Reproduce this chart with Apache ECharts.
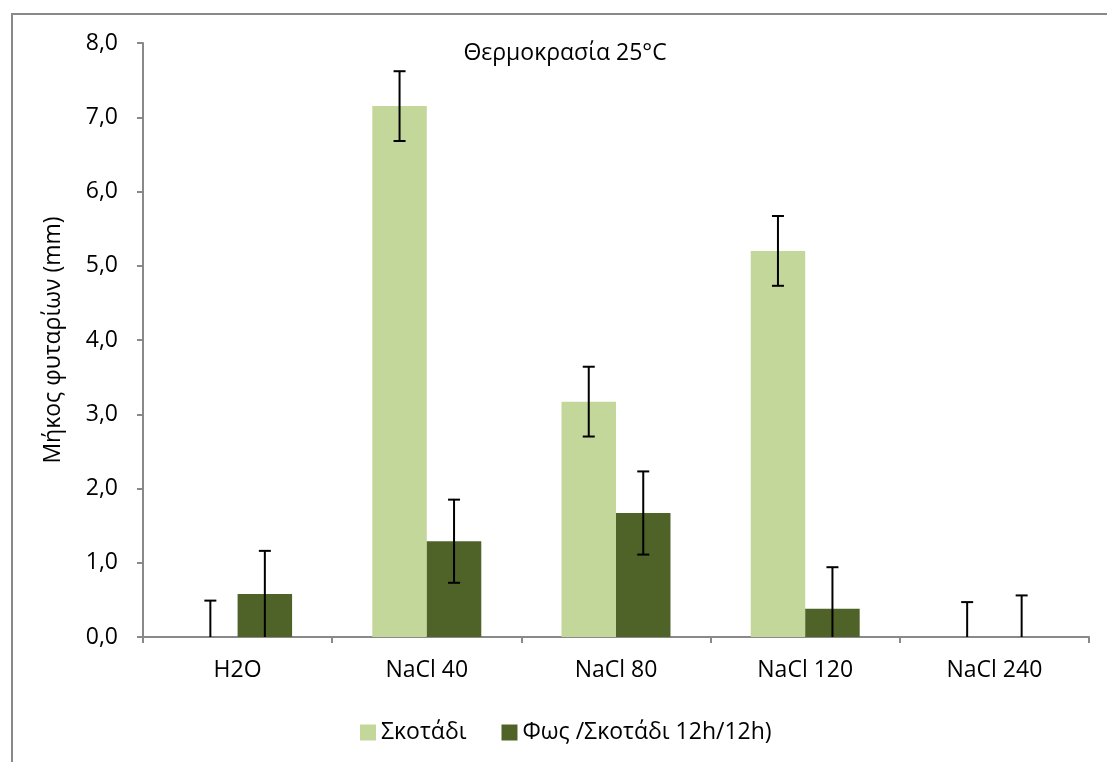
<!DOCTYPE html>
<html>
<head>
<meta charset="utf-8">
<script src="https://cdn.jsdelivr.net/npm/echarts@6/dist/echarts.min.js"></script>
<style>
  html, body { margin: 0; padding: 0; background: #fff; }
  #chart { width: 1107px; height: 762px; }
</style>
</head>
<body>
<div id="chart"></div>
<script>
// Seedling length (mm) at 25°C, by treatment
const categories = ['H2O', 'NaCl 40', 'NaCl 80', 'NaCl 120', 'NaCl 240'];
const darkValues = [0, 7.15, 3.17, 5.20, 0];        // Σκοτάδι
const darkErrors = [0.49, 0.47, 0.47, 0.47, 0.47];
const lightValues = [0.58, 1.29, 1.67, 0.38, 0];    // Φως /Σκοτάδι 12h/12h
const lightErrors = [0.58, 0.56, 0.56, 0.56, 0.56];
const yTicks = [0, 1, 2, 3, 4, 5, 6, 7, 8];

const FONT = '"Open Sans", "Noto Sans", sans-serif';
const FONT_SIZE = 23;
const AXIS_COLOR = '#898989';
const BAR_RATIO = 0.288;

function errorBarRenderer(side) {
  return function (params, api) {
    const idx = api.value(0);
    const v = api.value(1);
    const e = api.value(2);
    const band = api.size([1, 0])[0];
    const bw = band * BAR_RATIO;
    const x = api.coord([idx, 0])[0] + side * bw / 2;
    const hi = v + e;
    const loRaw = v - e;
    const lo = Math.max(0, loRaw);
    const yHi = api.coord([idx, hi])[1];
    const yLo = api.coord([idx, lo])[1];
    const cap = 6;
    const style = { stroke: '#000', lineWidth: 2 };
    const children = [
      { type: 'line', shape: { x1: x, y1: yLo, x2: x, y2: yHi }, style },
      { type: 'line', shape: { x1: x - cap, y1: yHi, x2: x + cap, y2: yHi }, style }
    ];
    if (loRaw > 0.02) {
      children.push({ type: 'line', shape: { x1: x - cap, y1: yLo, x2: x + cap, y2: yLo }, style });
    }
    return { type: 'group', children };
  };
}

const chart = echarts.init(document.getElementById('chart'));
chart.setOption({
  backgroundColor: '#fff',
  animation: false,
  grid: { left: 143, right: 18, top: 43, bottom: 125, containLabel: false },
  graphic: [
    {
      type: 'rect',
      shape: { x: 12, y: 14, width: 1200, height: 1000 },
      style: { fill: 'none', stroke: AXIS_COLOR, lineWidth: 2 },
      silent: true
    },
    {
      type: 'text',
      x: 565, y: 53,
      style: {
        text: 'Θερμοκρασία 25°C',
        font: FONT_SIZE + 'px ' + FONT,
        fill: '#000',
        align: 'center',
        verticalAlign: 'middle'
      }
    }
  ],
  legend: {
    left: 355,
    top: 716,
    itemWidth: 16,
    itemHeight: 16,
    itemGap: 35,
    icon: 'rect',
    textStyle: { fontFamily: FONT, fontSize: FONT_SIZE, color: '#000' },
    data: ['Σκοτάδι', 'Φως /Σκοτάδι 12h/12h)']
  },
  xAxis: {
    type: 'category',
    data: categories,
    axisLine: { lineStyle: { color: AXIS_COLOR, width: 2 } },
    axisTick: { show: true, length: 6, lineStyle: { color: AXIS_COLOR, width: 2 } },
    axisLabel: { fontFamily: FONT, fontSize: FONT_SIZE, color: '#000', margin: 22 }
  },
  yAxis: {
    type: 'value',
    min: yTicks[0],
    max: yTicks[yTicks.length - 1],
    interval: 1,
    name: 'Μήκος φυταρίων (mm)',
    nameLocation: 'middle',
    nameRotate: 90,
    nameGap: 78,
    nameTextStyle: { fontFamily: FONT, fontSize: FONT_SIZE, color: '#000' },
    splitLine: { show: false },
    axisLine: { show: true, lineStyle: { color: AXIS_COLOR, width: 2 } },
    axisTick: { show: true, length: 6, lineStyle: { color: AXIS_COLOR, width: 2 } },
    axisLabel: {
      fontFamily: FONT, fontSize: FONT_SIZE, color: '#000', margin: 25,
      formatter: v => v.toFixed(1).replace('.', ',')
    }
  },
  series: [
    {
      name: 'Σκοτάδι',
      type: 'bar',
      data: darkValues,
      barWidth: (BAR_RATIO * 100) + '%',
      barGap: '0%',
      itemStyle: { color: '#C4D79B' }
    },
    {
      name: 'Φως /Σκοτάδι 12h/12h)',
      type: 'bar',
      data: lightValues,
      barWidth: (BAR_RATIO * 100) + '%',
      barGap: '0%',
      itemStyle: { color: '#4F6228' }
    },
    {
      type: 'custom',
      renderItem: errorBarRenderer(-1),
      data: categories.map((c, i) => [i, darkValues[i], darkErrors[i]]),
      encode: { x: 0, y: 1 },
      z: 10,
      silent: true
    },
    {
      type: 'custom',
      renderItem: errorBarRenderer(1),
      data: categories.map((c, i) => [i, lightValues[i], lightErrors[i]]),
      encode: { x: 0, y: 1 },
      z: 10,
      silent: true
    }
  ]
});
</script>
</body>
</html>
